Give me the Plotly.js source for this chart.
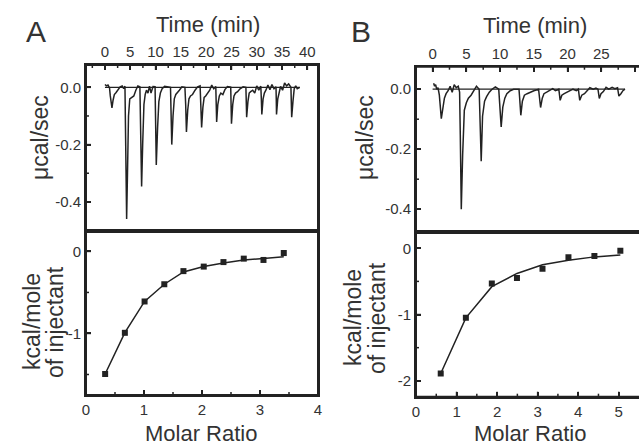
<!DOCTYPE html>
<html>
<head>
<meta charset="utf-8">
<script src="https://cdn.plot.ly/plotly-3.0.1.min.js"></script>
<style>html,body{margin:0;padding:0;background:#fff;}#chart{width:639px;height:445px;}</style>
</head>
<body>
<div id="chart"></div>
<script>
// ---------- Panel A : raw thermogram ----------
const timeA = [0.0,0.3,0.6,0.9,1.05,1.38,1.6,1.85,2.2,2.6,3.0,3.4,3.7,3.95,4.05,4.28,4.45,4.65,4.9,5.3,5.7,6.1,6.5,6.9,7.0,7.24,7.45,7.7,7.95,8.2,8.5,8.8,9.1,9.5,9.9,10.0,10.14,10.4,10.65,10.95,11.3,11.8,12.3,12.95,13.05,13.2,13.45,13.7,14.0,14.3,14.7,15.2,15.8,15.95,16.1,16.35,16.6,16.9,17.3,17.8,18.3,18.8,18.95,19.1,19.35,19.6,19.9,20.3,20.7,21.1,21.5,21.9,22.0,22.07,22.3,22.6,22.9,23.3,23.7,24.2,24.85,24.95,25.0,25.25,25.5,25.8,26.2,26.7,27.3,27.85,27.95,28.0,28.25,28.5,28.8,29.2,29.6,30.0,30.4,30.8,30.9,31.0,31.25,31.5,31.8,32.2,32.6,33.0,33.4,33.8,33.85,33.9,34.15,34.4,34.7,35.1,35.5,35.9,36.3,36.75,36.8,36.9,37.15,37.4,37.7,38.0,38.5];
const heatA = [0.010,0.005,0.008,-0.002,-0.030,-0.072,-0.045,-0.025,-0.018,-0.008,0.002,0.005,-0.005,0.004,-0.150,-0.460,-0.300,-0.100,-0.040,-0.035,-0.030,-0.010,0.005,0.002,-0.120,-0.346,-0.200,-0.060,-0.025,-0.010,-0.020,0.004,-0.020,0.003,0.002,-0.100,-0.271,-0.140,-0.050,-0.020,-0.005,0.004,0.002,0.000,-0.080,-0.200,-0.100,-0.040,-0.025,-0.020,-0.010,0.002,0.000,-0.060,-0.156,-0.080,-0.040,-0.030,-0.025,-0.010,0.002,0.005,-0.050,-0.140,-0.070,-0.035,-0.030,-0.020,-0.010,0.008,-0.005,0.003,-0.050,-0.121,-0.060,-0.030,-0.020,-0.025,-0.008,0.003,0.001,-0.060,-0.127,-0.060,-0.030,-0.020,-0.015,-0.005,0.002,0.000,-0.050,-0.104,-0.050,-0.020,-0.015,-0.010,-0.020,0.005,-0.010,0.004,-0.040,-0.095,-0.040,-0.020,-0.010,0.008,-0.008,0.010,-0.005,0.002,-0.040,-0.095,-0.040,-0.015,0.003,-0.010,0.015,0.005,0.012,0.000,-0.040,-0.104,-0.050,-0.005,0.005,-0.005,0.000];
const baseTimeA = [0, 38.5];
const baseHeatA = [0, 0];

// ---------- Panel A : integrated heats ----------
const ratioA = [0.33,0.67,1.01,1.35,1.68,2.03,2.37,2.72,3.06,3.41];
const enthA  = [-1.494,-0.992,-0.610,-0.400,-0.240,-0.185,-0.130,-0.088,-0.104,-0.020];
const fitA   = [-1.494,-0.990,-0.610,-0.400,-0.250,-0.185,-0.140,-0.105,-0.085,-0.065];

// ---------- Panel B : raw thermogram ----------
const timeB = [0.15,0.3,0.45,0.6,0.8,1.0,1.29,1.5,1.75,2.0,2.3,2.6,2.9,3.2,3.5,3.8,4.0,4.1,4.25,4.45,4.7,5.0,5.3,5.7,6.1,6.5,6.9,7.0,7.2,7.4,7.7,8.0,8.4,8.8,9.3,9.8,9.95,10.16,10.4,10.7,11.0,11.5,12.0,12.8,12.9,13.07,13.3,13.6,14.0,14.4,15.0,15.7,15.8,16.0,16.25,16.5,16.9,17.3,17.8,18.2,18.7,18.9,19.15,19.5,19.9,20.3,20.8,21.3,21.6,21.8,22.1,22.5,22.9,23.3,23.8,24.2,24.5,24.7,24.95,25.3,25.7,26.1,26.6,27.0,27.4,27.6,27.9,28.2,28.5];
const heatB = [0.020,0.010,0.015,0.000,0.005,-0.020,-0.098,-0.060,-0.030,-0.015,-0.005,0.010,-0.010,0.015,0.005,0.010,-0.010,-0.150,-0.400,-0.220,-0.070,-0.045,-0.030,-0.020,-0.005,0.010,0.000,-0.080,-0.240,-0.090,-0.040,-0.025,-0.010,0.000,0.008,0.000,-0.040,-0.126,-0.060,-0.030,-0.015,-0.005,0.000,0.000,-0.030,-0.087,-0.040,-0.020,-0.015,-0.010,-0.005,0.000,-0.020,-0.061,-0.030,-0.015,-0.010,-0.005,0.002,-0.005,0.000,-0.037,-0.020,-0.015,-0.010,-0.005,0.000,-0.005,0.000,-0.037,-0.020,-0.015,-0.005,0.005,0.000,0.004,0.000,-0.031,-0.015,-0.008,0.006,0.000,0.006,0.002,0.005,-0.023,-0.015,-0.005,0.000];
const baseTimeB = [0, 28.5];
const baseHeatB = [0, 0];

// ---------- Panel B : integrated heats ----------
const ratioB = [0.61,1.23,1.87,2.49,3.12,3.76,4.40,5.04];
const enthB  = [-1.89,-1.05,-0.53,-0.45,-0.31,-0.135,-0.116,-0.036];
const fitB   = [-1.89,-1.05,-0.58,-0.38,-0.25,-0.18,-0.13,-0.10];

// ---------- ticks and tick labels ----------
const timeTicksA = [0,5,10,15,20,25,30,35,40];
const timeMinorA = [-2.5,2.5,7.5,12.5,17.5,22.5,27.5,32.5,37.5];
const timeTicksB = [0,5,10,15,20,25,30];
const timeMinorB = [-2.5,2.5,7.5,12.5,17.5,22.5,27.5];
const powerTicks = [0, -0.2, -0.4];
const powerLabels = ['0.0', '-0.2', '-0.4'];
const powerMinor = [-0.1, -0.3];
const ratioTicksA = [0,1,2,3,4];
const ratioMinorA = [0.5,1.5,2.5,3.5];
const ratioTicksB = [0,1,2,3,4,5];
const ratioMinorB = [0.5,1.5,2.5,3.5,4.5];
const enthTicksA = [0, -1];
const enthLabelsA = ['0', '-1'];
const enthMinorA = [-0.5, -1.5];
const enthTicksB = [0, -1, -2];
const enthLabelsB = ['0', '-1', '-2'];
const enthMinorB = [-0.5, -1.5];

const INK = '#222';
const TXT = '#333';
const FONT = 'Arial, "Liberation Sans", sans-serif';

const lineStyle = {color: INK, width: 1.5};
const traces = [
  {x: baseTimeA, y: baseHeatA, xaxis: 'x', yaxis: 'y', mode: 'lines', line: {color: INK, width: 1.3}},
  {x: timeA, y: heatA, xaxis: 'x', yaxis: 'y', mode: 'lines', line: lineStyle},
  {x: ratioA, y: fitA, xaxis: 'x2', yaxis: 'y2', mode: 'lines', line: {color: INK, width: 1.5}},
  {x: ratioA, y: enthA, xaxis: 'x2', yaxis: 'y2', mode: 'markers', marker: {symbol: 'square', size: 6, color: INK}},
  {x: baseTimeB, y: baseHeatB, xaxis: 'x3', yaxis: 'y3', mode: 'lines', line: {color: INK, width: 1.3}},
  {x: timeB, y: heatB, xaxis: 'x3', yaxis: 'y3', mode: 'lines', line: lineStyle},
  {x: ratioB, y: fitB, xaxis: 'x4', yaxis: 'y4', mode: 'lines', line: {color: INK, width: 1.5}},
  {x: ratioB, y: enthB, xaxis: 'x4', yaxis: 'y4', mode: 'markers', marker: {symbol: 'square', size: 6, color: INK}}
];

const W = 639, H = 445;
const px = v => v / W;
const py = v => 1 - v / H;

// axis geometry (pixel frame of each panel and the value range shown)
const AX = {
  x:  {dom: [86, 318],  range: [-3.75, 42.1]},
  y:  {dom: [230.5, 65], range: [-0.5, 0.078]},
  x2: {dom: [86, 318],  range: [0, 4]},
  y2: {dom: [395, 230.5], range: [-1.75, 0.255]},
  x3: {dom: [416, 639], range: [-2.46, 30.58]},
  y3: {dom: [231.7, 66.7], range: [-0.475, 0.075]},
  x4: {dom: [416, 639], range: [0, 5.5]},
  y4: {dom: [396.7, 231.7], range: [-2.24, 0.25]}
};
const xDom = k => [px(AX[k].dom[0]), px(AX[k].dom[1])];
const yDom = k => [py(AX[k].dom[0]), py(AX[k].dom[1])];
// value -> pixel along an axis (linear, same as the axis scale)
const toPix = (k, v) => {
  const a = AX[k];
  return a.dom[0] + (v - a.range[0]) / (a.range[1] - a.range[0]) * (a.dom[1] - a.dom[0]);
};

function common(extra) {
  return Object.assign({
    showline: true, linecolor: INK, linewidth: 2,
    ticks: 'inside', ticklen: 5, tickwidth: 1.5, tickcolor: INK,
    showgrid: false, zeroline: false, layer: 'above traces',
    tickfont: {family: FONT, size: 15, color: TXT}
  }, extra);
}

const layout = {
  width: W, height: H,
  margin: {l: 0, r: 0, t: 0, b: 0},
  paper_bgcolor: '#fff', plot_bgcolor: 'rgba(0,0,0,0)',
  showlegend: false,
  font: {family: FONT, color: TXT},
  xaxis: common({domain: xDom('x'), anchor: 'y', side: 'top', mirror: true,
    range: AX.x.range, tickmode: 'array', tickvals: timeTicksA}),
  yaxis: common({domain: yDom('y'), anchor: 'x', side: 'left', mirror: true,
    range: AX.y.range, tickmode: 'array', tickvals: powerTicks, ticktext: powerLabels}),
  xaxis2: common({domain: xDom('x2'), anchor: 'y2', side: 'bottom', mirror: true,
    range: AX.x2.range, tickmode: 'array', tickvals: ratioTicksA}),
  yaxis2: common({domain: yDom('y2'), anchor: 'x2', side: 'left', mirror: true,
    range: AX.y2.range, tickmode: 'array', tickvals: enthTicksA, ticktext: enthLabelsA}),
  xaxis3: common({domain: xDom('x3'), anchor: 'y3', side: 'top', mirror: true,
    range: AX.x3.range, tickmode: 'array', tickvals: timeTicksB}),
  yaxis3: common({domain: yDom('y3'), anchor: 'x3', side: 'left',
    range: AX.y3.range, tickmode: 'array', tickvals: powerTicks, ticktext: powerLabels}),
  xaxis4: common({domain: xDom('x4'), anchor: 'y4', side: 'bottom', mirror: true,
    range: AX.x4.range, tickmode: 'array', tickvals: ratioTicksB}),
  yaxis4: common({domain: yDom('y4'), anchor: 'x4', side: 'left',
    range: AX.y4.range, tickmode: 'array', tickvals: enthTicksB, ticktext: enthLabelsB}),
  annotations: [],
  shapes: []
};

function ann(text, x, y, size, angle) {
  layout.annotations.push({text: text, xref: 'paper', yref: 'paper', x: px(x), y: py(y),
    xanchor: 'center', yanchor: 'middle', showarrow: false, textangle: angle || 0,
    font: {family: FONT, size: size, color: TXT}});
}
ann('A', 36, 31, 30);
ann('B', 361, 31, 30);
ann('Time (min)', 208, 24, 22);
ann('Time (min)', 535, 25, 22);
ann('μcal/sec', 40, 138, 23, -90);
ann('μcal/sec', 365, 138, 23, -90);
ann('kcal/mole', 32, 322, 23, -90);
ann('of injectant', 55, 322, 23, -90);
ann('kcal/mole', 353, 318, 23, -90);
ann('of injectant', 377, 318, 23, -90);
ann('Molar Ratio', 201, 433, 22);
ann('Molar Ratio', 530, 433, 22);

// panel frames
function seg(x0, y0, x1, y1, w) {
  layout.shapes.push({type: 'line', xref: 'paper', yref: 'paper', x0: px(x0), y0: py(y0), x1: px(x1), y1: py(y1),
    line: {color: INK, width: w || 2}, layer: 'above'});
}
seg(86, 65, 318, 65); seg(86, 395, 318, 395); seg(86, 230.5, 318, 230.5);
seg(86, 65, 86, 395); seg(318, 65, 318, 395);
seg(416, 66.7, 639, 66.7); seg(416, 396.7, 639, 396.7); seg(416, 231.7, 639, 231.7);
seg(416, 66.7, 416, 396.7);

// inward tick marks, positioned with the axes' linear scales
function xTicks(xk, yk, vals, len, atTop) {
  const edge = atTop ? AX[yk].dom[1] : AX[yk].dom[0];
  const dir = atTop ? 1 : -1;
  vals.forEach(v => { const p = toPix(xk, v); seg(p, edge, p, edge + dir * len, 1.5); });
}
function yTicks(xk, yk, vals, len) {
  const edge = AX[xk].dom[0];
  vals.forEach(v => { const p = toPix(yk, v); seg(edge, p, edge + len, p, 1.5); });
}
const MAJ = 5, MIN = 3;
xTicks('x', 'y', timeTicksA, MAJ, true);     xTicks('x', 'y', timeMinorA, MIN, true);
yTicks('x', 'y', powerTicks, MAJ);           yTicks('x', 'y', powerMinor, MIN);
xTicks('x2', 'y2', ratioTicksA, MAJ, false); xTicks('x2', 'y2', ratioMinorA, MIN, false);
yTicks('x2', 'y2', enthTicksA, MAJ);         yTicks('x2', 'y2', enthMinorA, MIN);
xTicks('x3', 'y3', timeTicksB, MAJ, true);   xTicks('x3', 'y3', timeMinorB, MIN, true);
yTicks('x3', 'y3', powerTicks, MAJ);         yTicks('x3', 'y3', powerMinor, MIN);
xTicks('x4', 'y4', ratioTicksB, MAJ, false); xTicks('x4', 'y4', ratioMinorB, MIN, false);
yTicks('x4', 'y4', enthTicksB, MAJ);         yTicks('x4', 'y4', enthMinorB, MIN);

Plotly.newPlot('chart', traces, layout, {displayModeBar: false});
</script>
</body>
</html>
